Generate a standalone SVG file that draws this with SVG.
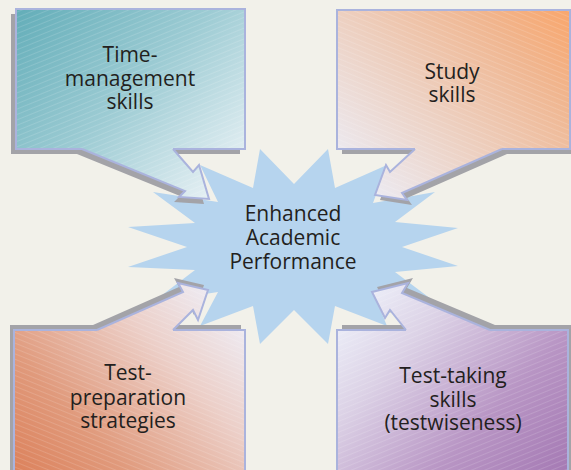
<svg xmlns="http://www.w3.org/2000/svg" width="571" height="470" viewBox="0 0 571 470">
<defs>
<linearGradient id="gTL" gradientUnits="userSpaceOnUse" x1="20" y1="10" x2="210" y2="200">
<stop offset="0" stop-color="#64aeb9"/><stop offset="0.5" stop-color="#9ccbd3"/><stop offset="1" stop-color="#e6f0f4"/>
</linearGradient>
<linearGradient id="gTR" gradientUnits="userSpaceOnUse" x1="570" y1="10" x2="375" y2="200">
<stop offset="0" stop-color="#f9a66c"/><stop offset="0.25" stop-color="#f0b690"/><stop offset="0.6" stop-color="#edcfbf"/><stop offset="1" stop-color="#ecebf3"/>
</linearGradient>
<linearGradient id="gBL" gradientUnits="userSpaceOnUse" x1="14" y1="470" x2="210" y2="285">
<stop offset="0" stop-color="#dc825c"/><stop offset="0.3" stop-color="#e09a7c"/><stop offset="0.7" stop-color="#eccfc8"/><stop offset="1" stop-color="#eeecf4"/>
</linearGradient>
<linearGradient id="gBR" gradientUnits="userSpaceOnUse" x1="568" y1="470" x2="372" y2="285">
<stop offset="0" stop-color="#a57ab4"/><stop offset="0.35" stop-color="#b895c4"/><stop offset="0.75" stop-color="#dcd2e6"/><stop offset="1" stop-color="#eceef8"/>
</linearGradient>
<pattern id="hatchUp" patternUnits="userSpaceOnUse" width="5" height="5" patternTransform="rotate(-22)">
<line x1="0" y1="2.5" x2="5" y2="2.5" stroke="#ffffff" stroke-width="0.7" stroke-opacity="0.2"/>
</pattern>
<pattern id="hatchDown" patternUnits="userSpaceOnUse" width="5" height="5" patternTransform="rotate(22)">
<line x1="0" y1="2.5" x2="5" y2="2.5" stroke="#ffffff" stroke-width="0.7" stroke-opacity="0.2"/>
</pattern>
<style>
.bg{fill:#f2f1ea}
.box{stroke:#aab3dd;stroke-width:2}
.shadow{fill:#a3a3a8}
.hu{fill:url(#hatchUp);stroke:none}
.hd{fill:url(#hatchDown);stroke:none}
.edge{fill:none;stroke:#aab3dd;stroke-width:2;stroke-linejoin:miter}
.star{fill:#b6d4ee}
text{font-family:"Open Sans","Noto Sans","DejaVu Sans",sans-serif;font-size:21px;fill:#231f20;text-anchor:middle}
</style>
</defs>
<rect class="bg" x="0" y="0" width="571" height="470"/>

<g id="node-center">
<polygon class="star" points="260,149 294,184 328,149 335,188 387,165 373,203 435,192 395,222 458,228 402,247 458,266 395,272 435,302 373,292 387,326 335,306 328,344 294,310 260,344 253,306 200,326 218,292 153,302 195,270 128,267 187,247 128,227 195,223 153,192 218,202 200,165 253,188"/>
<text x="293" y="221">Enhanced</text>
<text x="293" y="245">Academic</text>
<text x="293" y="269">Performance</text>
</g>

<g id="node-time">
<rect class="shadow" x="11" y="14" width="229" height="140"/>
<rect class="box" x="16" y="9" width="229" height="140" fill="url(#gTL)"/>
<rect class="hu" x="17" y="10" width="227" height="138"/>
<text x="130" y="62">Time-</text>
<text x="130" y="86">management</text>
<text x="130" y="109">skills</text>
</g>

<g id="node-study">
<rect class="shadow" x="342" y="15" width="233" height="139"/>
<rect class="box" x="337" y="10" width="233" height="139" fill="url(#gTR)"/>
<rect class="hd" x="338" y="11" width="231" height="137"/>
<text x="452" y="79">Study</text>
<text x="452" y="102">skills</text>
</g>

<g id="node-testprep">
<rect class="shadow" x="10" y="325" width="231" height="150"/>
<rect class="box" x="14" y="330" width="231" height="145" fill="url(#gBL)"/>
<rect class="hd" x="15" y="331" width="229" height="143"/>
<text x="128" y="380">Test-</text>
<text x="128" y="405">preparation</text>
<text x="128" y="428">strategies</text>
</g>

<g id="node-testtaking">
<rect class="shadow" x="342" y="325" width="231" height="150"/>
<rect class="box" x="337" y="330" width="231" height="145" fill="url(#gBR)"/>
<rect class="hu" x="338" y="331" width="229" height="143"/>
<text x="453" y="383">Test-taking</text>
<text x="453" y="407">skills</text>
<text x="453" y="430">(testwiseness)</text>
</g>

<g id="connectors">
<polygon class="shadow" transform="translate(-5,5)" points="82,149 185,191 179,197 209,199 199,165 193,172 173,149"/>
<polygon fill="url(#gTL)" points="82,146 82,149 185,191 179,197 209,199 199,165 193,172 173,149 173,146"/>
<polygon class="hu" points="82,146 82,149 185,191 179,197 209,199 199,165 193,172 173,149 173,146"/>
<polyline class="edge" points="82,149 185,191 179,197 209,199 199,165 193,172 173,149"/>

<polygon class="shadow" transform="translate(5,5)" points="415,149 390,172 386,165 375,195 407,200 402,193 502,149"/>
<polygon fill="url(#gTR)" points="415,146 415,149 390,172 386,165 375,195 407,200 402,193 502,149 502,146"/>
<polygon class="hd" points="415,146 415,149 390,172 386,165 375,195 407,200 402,193 502,149 502,146"/>
<polyline class="edge" points="415,149 390,172 386,165 375,195 407,200 402,193 502,149"/>

<polygon class="shadow" transform="translate(-4,-5)" points="97,330 183,292 178,283 208,290 198,320 193,310 173,330"/>
<polygon fill="url(#gBL)" points="97,333 97,330 183,292 178,283 208,290 198,320 193,310 173,330 173,333"/>
<polygon class="hd" points="97,333 97,330 183,292 178,283 208,290 198,320 193,310 173,330 173,333"/>
<polyline class="edge" points="97,330 183,292 178,283 208,290 198,320 193,310 173,330"/>

<polygon class="shadow" transform="translate(5,-5)" points="406,330 390,310 385,318 372,292 408,283 402,293 490,330"/>
<polygon fill="url(#gBR)" points="406,333 406,330 390,310 385,318 372,292 408,283 402,293 490,330 490,333"/>
<polygon class="hu" points="406,333 406,330 390,310 385,318 372,292 408,283 402,293 490,330 490,333"/>
<polyline class="edge" points="406,330 390,310 385,318 372,292 408,283 402,293 490,330"/>
</g>
</svg>
